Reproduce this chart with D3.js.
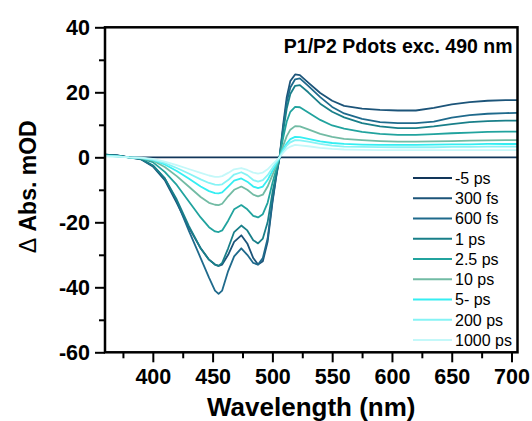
<!DOCTYPE html>
<html>
<head>
<meta charset="utf-8">
<script src="https://cdn.jsdelivr.net/npm/d3@7"></script>
<style>
  html, body { margin: 0; padding: 0; background: #fff; }
  svg { display: block; font-family: "Liberation Sans", Arial, Helvetica, sans-serif; }
</style>
</head>
<body>
<svg id="chart" width="532" height="421"></svg>
<script>
// Wavelength grid (nm) shared by every transient spectrum
const wavelengths = [360, 370, 380, 390, 400, 410, 420, 430, 440, 447, 452, 455, 458, 463, 468, 474, 479, 484, 488, 492, 496, 500, 503, 506, 509, 512, 515, 519, 523, 530, 540, 550, 560, 575, 590, 605, 620, 635, 650, 665, 680, 695, 705];

// Delta absorbance (mOD) at each delay time
const dA_m5ps   = [0.8, 0.6, 0, 0, 0, 0, 0, 0, 0, 0, 0, 0, 0, 0, 0, 0, 0, 0, 0, 0, 0, 0, 0, 0, 0, 0, 0, 0, 0, 0, 0, 0, 0, 0, 0, 0, 0, 0, 0, 0, 0, 0, 0];
const dA_300fs  = [0.8, 0.6, 0, -0.6, -2.8, -7, -14, -21.5, -28, -31.5, -33, -33.4, -33, -30, -26, -24, -26.5, -31, -33, -32, -26, -14, -6.5, 0, 10, 18.5, 23.5, 25.5, 25.3, 23, 19.8, 17.4, 15.8, 15, 14.6, 14.4, 14.4, 15.2, 16.3, 17, 17.4, 17.6, 17.6];
const dA_600fs  = [0.5, 0.5, 0, -0.5, -2.5, -6.5, -13.5, -22.5, -31, -37, -41, -42, -41, -35, -30.5, -28, -30, -32.5, -33, -31, -25, -13.5, -6, 0, 9, 17, 21.5, 24, 24.3, 22, 18.5, 15.5, 13.5, 11.8, 10.8, 10.5, 10.5, 11, 12.2, 13, 13.4, 13.6, 13.7];
const dA_1ps    = [0.8, 0.5, 0, -0.5, -2.5, -6.5, -13, -21, -28, -31.5, -33, -33.4, -32.5, -28, -23, -21, -22.5, -25.5, -26.5, -25, -20, -11, -5.5, 0, 8, 15, 19.5, 22, 22.2, 20, 16.5, 14, 12.3, 10.5, 9.5, 9, 9, 9.5, 10.2, 10.8, 11.1, 11.3, 11.3];
const dA_2p5ps  = [0.6, 0.4, 0, -0.3, -1.5, -4.5, -8.5, -13.5, -18.5, -21.5, -22.8, -23, -22.5, -19.5, -16, -14.7, -16, -18, -18.5, -17.5, -14, -8, -4, 0, 6, 11, 14, 15.5, 15.4, 13.8, 11.5, 9.8, 8.8, 7.8, 7.2, 6.9, 6.9, 7.1, 7.4, 7.6, 7.8, 7.9, 7.9];
const dA_10ps   = [0.5, 0.3, 0, -0.3, -1, -3, -5.8, -9, -12.2, -14, -14.6, -14.7, -14.3, -12, -10, -9, -10, -11.5, -12, -11.5, -9, -5.5, -2.8, 0, 3.5, 6.5, 8.5, 9.6, 9.5, 8.6, 7.2, 6.3, 5.7, 5.3, 5, 4.8, 4.8, 4.9, 5, 5.1, 5.2, 5.3, 5.3];
const dA_50ps   = [0.5, 0.3, 0, -0.2, -0.8, -2.2, -4.2, -6.5, -9, -10.4, -11, -11.1, -10.8, -9, -7.2, -6.5, -7.5, -9, -9.5, -9, -7, -4.2, -2.2, 0, 2.5, 4.3, 5.6, 6.3, 6.2, 5.7, 4.9, 4.4, 4.1, 3.9, 3.8, 3.8, 3.8, 3.9, 4, 4, 4.1, 4.1, 4.1];
const dA_200ps  = [0.4, 0.3, 0, -0.2, -0.7, -1.8, -3.3, -5, -6.8, -7.9, -8.4, -8.5, -8.3, -7, -5.3, -4.6, -5.5, -7, -7.5, -7, -5.5, -3.3, -1.7, 0, 2, 3.6, 4.6, 5.3, 5.2, 4.8, 4.1, 3.6, 3.3, 3.2, 3.1, 3.1, 3.1, 3.1, 3.2, 3.2, 3.3, 3.3, 3.3];
const dA_1000ps = [0.3, 0.2, 0, -0.1, -0.5, -1.3, -2.4, -3.6, -4.8, -5.6, -6, -6, -5.8, -4.8, -3.7, -3.3, -3.9, -4.7, -5, -4.7, -3.7, -2.2, -1.1, 0, 1.4, 2.6, 3.3, 3.8, 3.7, 3.4, 2.9, 2.6, 2.4, 2.3, 2.2, 2.2, 2.2, 2.2, 2.2, 2.2, 2.2, 2.2, 2.2];

const delayLabels = ["-5 ps", "300 fs", "600 fs", "1 ps", "2.5 ps", "10 ps", "5- ps", "200 ps", "1000 ps"];
const seriesValues = [dA_m5ps, dA_300fs, dA_600fs, dA_1ps, dA_2p5ps, dA_10ps, dA_50ps, dA_200ps, dA_1000ps];

const xTicks = [400, 450, 500, 550, 600, 650, 700];
const xMinorTicks = [375, 425, 475, 525, 575, 625, 675];
const yTicks = [-60, -40, -20, 0, 20, 40];
const yMinorTicks = [-50, -30, -10, 10, 30];

// Line colours, dark navy for early delays fading to pale cyan
const palette = ["#12365a", "#1c5479", "#1f6a8c", "#197f89", "#21a39e", "#72bba4", "#35eef2", "#86f3f5", "#c4f8f9"];

const svg = d3.select("#chart");
const plot = { left: 105, right: 517.5, top: 27.3, bottom: 352.3 };

const x = d3.scaleLinear().domain([360, 705]).range([plot.left, plot.right]);
const y = d3.scaleLinear().domain([-60, 40]).range([plot.bottom, plot.top]);

// Plain hyphen-minus for negative tick labels
const plainNum = d => String(d);

// Spectra
const line = d3.line()
  .x((d, i) => x(wavelengths[i]))
  .y(d => y(d));

const g = svg.append("g");
seriesValues.forEach((vals, k) => {
  g.append("path")
    .datum(vals)
    .attr("d", line)
    .attr("fill", "none")
    .attr("stroke", palette[k])
    .attr("stroke-width", 1.8)
    .attr("stroke-linejoin", "round");
});

// Frame
svg.append("rect")
  .attr("x", plot.left).attr("y", plot.top)
  .attr("width", plot.right - plot.left).attr("height", plot.bottom - plot.top)
  .attr("fill", "none").attr("stroke", "#000").attr("stroke-width", 2.5);

// Bottom axis
const xAxis = svg.append("g").attr("transform", `translate(0,${plot.bottom})`);
xAxis.call(d3.axisBottom(x).tickValues(xTicks).tickSize(10).tickPadding(6).tickFormat(plainNum));
xAxis.select(".domain").remove();
xAxis.selectAll(".tick line").attr("stroke", "#000").attr("stroke-width", 2);
xAxis.selectAll(".tick text").attr("font-size", 21.5).attr("font-weight", "bold").attr("fill", "#000")
  .attr("font-family", "'Liberation Sans', Arial, sans-serif");
const xMinor = svg.append("g").attr("transform", `translate(0,${plot.bottom})`);
xMinor.call(d3.axisBottom(x).tickValues(xMinorTicks).tickSize(6).tickFormat(""));
xMinor.select(".domain").remove();
xMinor.selectAll(".tick line").attr("stroke", "#000").attr("stroke-width", 2);

// Left axis
const yAxis = svg.append("g").attr("transform", `translate(${plot.left},0)`);
yAxis.call(d3.axisLeft(y).tickValues(yTicks).tickSize(10).tickPadding(5).tickFormat(plainNum));
yAxis.select(".domain").remove();
yAxis.selectAll(".tick line").attr("stroke", "#000").attr("stroke-width", 2);
yAxis.selectAll(".tick text").attr("font-size", 21.5).attr("font-weight", "bold").attr("fill", "#000")
  .attr("font-family", "'Liberation Sans', Arial, sans-serif");
const yMinor = svg.append("g").attr("transform", `translate(${plot.left},0)`);
yMinor.call(d3.axisLeft(y).tickValues(yMinorTicks).tickSize(6).tickFormat(""));
yMinor.select(".domain").remove();
yMinor.selectAll(".tick line").attr("stroke", "#000").attr("stroke-width", 2);

// Axis titles
svg.append("text")
  .attr("x", (plot.left + plot.right) / 2).attr("y", 416)
  .attr("text-anchor", "middle")
  .attr("font-size", 26).attr("font-weight", "bold")
  .text("Wavelength (nm)");

const yTitle = svg.append("text")
  .attr("transform", `translate(36,${(plot.top + plot.bottom) / 2 - 3}) rotate(-90)`)
  .attr("text-anchor", "middle")
  .attr("font-size", 23).attr("font-weight", "bold");
yTitle.append("tspan").attr("font-weight", "normal").text("\u0394");
yTitle.append("tspan").text(" Abs. mOD");

// Sample annotation
svg.append("text")
  .attr("x", 512.5).attr("y", 53.3)
  .attr("text-anchor", "end")
  .attr("font-size", 19.5).attr("font-weight", "bold")
  .text("P1/P2 Pdots exc. 490 nm");

// Legend
const legend = svg.append("g");
delayLabels.forEach((lab, k) => {
  const ly = 178 + 20.25 * k;
  legend.append("line")
    .attr("x1", 413).attr("x2", 452).attr("y1", ly).attr("y2", ly)
    .attr("stroke", palette[k]).attr("stroke-width", 2);
  legend.append("text")
    .attr("x", 455).attr("y", ly).attr("dy", "0.36em")
    .attr("font-size", 16).attr("fill", "#000")
    .text(lab);
});
</script>
</body>
</html>
